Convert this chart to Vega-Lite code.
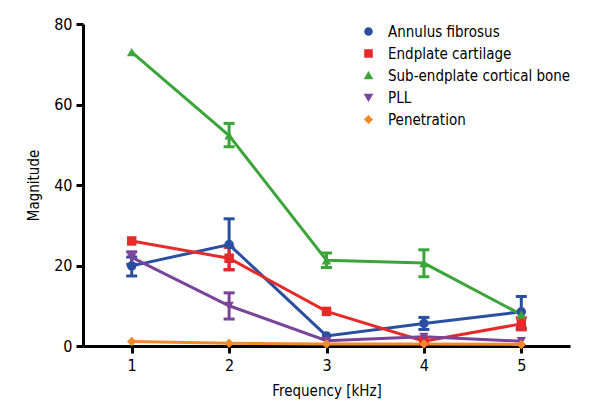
{
  "$schema": "https://vega.github.io/schema/vega-lite/v6.json",
  "autosize": {"type": "none"},
  "width": 487,
  "height": 322,
  "padding": {"left": 83, "top": 24, "right": 30, "bottom": 74},
  "background": "white",
  "config": {
    "view": {"stroke": null},
    "font": "DejaVu Sans Condensed",
    "axis": {"grid": false, "domainColor": "black", "domainWidth": 3, "tickColor": "black", "tickWidth": 3, "tickSize": 7, "labelFont": "DejaVu Sans Condensed", "labelFontSize": 16, "labelColor": "black", "titleFont": "DejaVu Sans Condensed", "titleFontSize": 15, "titleFontWeight": "normal", "titleColor": "black", "labelPadding": 4},
    "legend": {"labelFont": "DejaVu Sans Condensed", "labelFontSize": 15, "labelColor": "black", "labelLimit": 0}
  },
  "data": {"values": [
    {"series": "Annulus fibrosus", "freq": 1, "value": 19.9, "lo": 17.4, "hi": 22.1},
    {"series": "Annulus fibrosus", "freq": 2, "value": 25.2, "lo": 18.9, "hi": 31.6},
    {"series": "Annulus fibrosus", "freq": 3, "value": 2.5, "lo": null, "hi": null},
    {"series": "Annulus fibrosus", "freq": 4, "value": 5.6, "lo": 4.1, "hi": 7.1},
    {"series": "Annulus fibrosus", "freq": 5, "value": 8.5, "lo": 4.5, "hi": 12.3},
    {"series": "Endplate cartilage", "freq": 1, "value": 26.1, "lo": null, "hi": null},
    {"series": "Endplate cartilage", "freq": 2, "value": 21.8, "lo": 19.0, "hi": 24.5},
    {"series": "Endplate cartilage", "freq": 3, "value": 8.6, "lo": null, "hi": null},
    {"series": "Endplate cartilage", "freq": 4, "value": 1.2, "lo": null, "hi": null},
    {"series": "Endplate cartilage", "freq": 5, "value": 5.5, "lo": 4.0, "hi": 7.0},
    {"series": "Sub-endplate cortical bone", "freq": 1, "value": 73.0, "lo": null, "hi": null},
    {"series": "Sub-endplate cortical bone", "freq": 2, "value": 52.3, "lo": 49.5, "hi": 55.3},
    {"series": "Sub-endplate cortical bone", "freq": 3, "value": 21.3, "lo": 19.5, "hi": 23.1},
    {"series": "Sub-endplate cortical bone", "freq": 4, "value": 20.6, "lo": 17.2, "hi": 23.9},
    {"series": "Sub-endplate cortical bone", "freq": 5, "value": 7.8, "lo": null, "hi": null},
    {"series": "PLL", "freq": 1, "value": 22.0, "lo": 20.3, "hi": 23.4},
    {"series": "PLL", "freq": 2, "value": 10.0, "lo": 6.7, "hi": 13.2},
    {"series": "PLL", "freq": 3, "value": 1.3, "lo": null, "hi": null},
    {"series": "PLL", "freq": 4, "value": 2.3, "lo": null, "hi": null},
    {"series": "PLL", "freq": 5, "value": 1.2, "lo": null, "hi": null},
    {"series": "Penetration", "freq": 1, "value": 1.1, "lo": null, "hi": null},
    {"series": "Penetration", "freq": 2, "value": 0.7, "lo": null, "hi": null},
    {"series": "Penetration", "freq": 3, "value": 0.5, "lo": null, "hi": null},
    {"series": "Penetration", "freq": 4, "value": 0.5, "lo": null, "hi": null},
    {"series": "Penetration", "freq": 5, "value": 0.4, "lo": null, "hi": null}
  ]},
  "encoding": {
    "x": {"field": "freq", "type": "quantitative", "scale": {"domain": [0.5, 5.5], "nice": false, "zero": false}, "axis": {"values": [1, 2, 3, 4, 5], "format": "d", "title": "Frequency [kHz]", "titlePadding": 10}},
    "color": {"field": "series", "type": "nominal", "scale": {"domain": ["Annulus fibrosus", "Endplate cartilage", "Sub-endplate cortical bone", "PLL", "Penetration"], "range": ["#2b4fa0", "#e62a2a", "#3ba53a", "#7a4498", "#f08a2a"]},
      "legend": {"title": null, "orient": "none", "legendX": 278, "legendY": 0, "symbolSize": 50, "rowPadding": 6, "labelOffset": 12}}
  },
  "layer": [
    {
      "transform": [{"filter": "datum.lo != null"}],
      "mark": {"type": "rule", "strokeWidth": 3},
      "encoding": {"y": {"field": "lo", "type": "quantitative"}, "y2": {"field": "hi"}}
    },
    {
      "transform": [{"filter": "datum.lo != null"}],
      "mark": {"type": "tick", "orient": "horizontal", "size": 11, "thickness": 3, "opacity": 1},
      "encoding": {"y": {"field": "lo", "type": "quantitative"}}
    },
    {
      "transform": [{"filter": "datum.lo != null"}],
      "mark": {"type": "tick", "orient": "horizontal", "size": 11, "thickness": 3, "opacity": 1},
      "encoding": {"y": {"field": "hi", "type": "quantitative"}}
    },
    {
      "mark": {"type": "line", "strokeWidth": 3},
      "encoding": {
        "y": {"field": "value", "type": "quantitative", "scale": {"domain": [0, 80], "nice": false}, "axis": {"values": [0, 20, 40, 60, 80], "title": "Magnitude", "titlePadding": 12}},
        "detail": {"field": "series"}
      }
    },
    {
      "mark": {"type": "point", "filled": true, "opacity": 1, "size": 90},
      "encoding": {
        "y": {"field": "value", "type": "quantitative"},
        "shape": {"field": "series", "type": "nominal", "scale": {"domain": ["Annulus fibrosus", "Endplate cartilage", "Sub-endplate cortical bone", "PLL", "Penetration"], "range": ["circle", "square", "triangle-up", "triangle-down", "diamond"]},
          "legend": {"title": null, "orient": "none", "legendX": 278, "legendY": 0, "symbolSize": 50, "rowPadding": 6, "labelOffset": 12}}
      }
    }
  ]
}
